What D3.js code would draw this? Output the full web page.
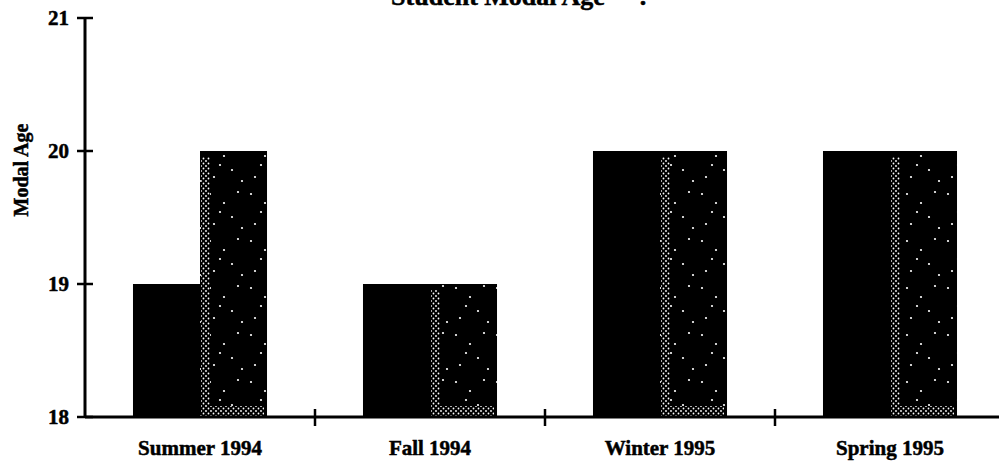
<!DOCTYPE html>
<html>
<head>
<meta charset="utf-8">
<script src="https://cdn.jsdelivr.net/npm/d3@7"></script>
<style>
  html, body { margin: 0; padding: 0; background: #fff; }
  svg { display: block; }
  text { font-family: "Liberation Serif", "Times New Roman", serif; font-weight: bold; fill: #000;
         stroke: #000; stroke-width: 0.5px; }
</style>
</head>
<body>
<svg id="chart" width="999" height="464"></svg>
<script>
// ---- data ----
const title = "Student Modal Age";
const yLabel = "Modal Age";
const categories = ["Summer 1994", "Fall 1994", "Winter 1995", "Spring 1995"];
const seriesNames = ["Series A", "Series B"];
const seriesA = [19, 19, 20, 20];
const seriesB = [20, 19, 20, 20];
const yTicks = [18, 19, 20, 21];

(function () {
// ---- layout ----
const svg = d3.select("#chart");
const mLeft = 85, mRight = 1005, mTop = 18, mBottom = 417;

const x = d3.scaleBand().domain(categories).range([mLeft, mRight]).paddingInner(0).paddingOuter(0);
const x1 = d3.scaleBand().domain(seriesNames).range([0, x.bandwidth()]).paddingInner(0).paddingOuter(0.716);
const y = d3.scaleLinear().domain([18, 21]).range([mBottom, mTop]);

// patterns
const defs = svg.append("defs");
const st = defs.append("pattern").attr("id", "stipple").attr("patternUnits", "userSpaceOnUse")
  .attr("width", 41).attr("height", 47);
st.append("rect").attr("width", 41).attr("height", 47).attr("fill", "#000");
[[5,6],[19,15],[33,4],[27,29],[9,36],[37,40],[15,24]].forEach(p =>
  st.append("circle").attr("cx", p[0]).attr("cy", p[1]).attr("r", 1.1).attr("fill", "#fff"));
const dt = defs.append("pattern").attr("id", "dither").attr("patternUnits", "userSpaceOnUse")
  .attr("width", 5).attr("height", 5);
dt.append("rect").attr("width", 5).attr("height", 5).attr("fill", "#000");
dt.append("circle").attr("cx", 1).attr("cy", 1).attr("r", 0.9).attr("fill", "#fff");
dt.append("circle").attr("cx", 3.5).attr("cy", 3.5).attr("r", 0.9).attr("fill", "#fff");

// title (cropped at top in reference)
svg.append("text").attr("x", 498).attr("y", 5).attr("text-anchor", "middle")
  .attr("font-size", 26).text(title);
svg.append("text").attr("x", 643).attr("y", 5).attr("text-anchor", "middle")
  .attr("font-size", 26).text(".");

// bars
const g = svg.append("g");
categories.forEach((c, i) => {
  const bx = x(c);
  // series A: solid black
  g.append("rect")
    .attr("x", bx + x1(seriesNames[0])).attr("y", y(seriesA[i]))
    .attr("width", x1.bandwidth()).attr("height", y(18) - y(seriesA[i]))
    .attr("fill", "#000");
  // series B: stippled
  const sx = bx + x1(seriesNames[1]);
  const sy = y(seriesB[i]);
  const sh = y(18) - sy;
  const sw = x1.bandwidth();
  g.append("rect").attr("x", sx).attr("y", sy).attr("width", sw).attr("height", sh)
    .attr("fill", "url(#stipple)");
  g.append("rect").attr("x", sx + 1).attr("y", sy + 6).attr("width", 9).attr("height", sh - 6)
    .attr("fill", "url(#dither)");
  g.append("rect").attr("x", sx + 1).attr("y", y(18) - 11).attr("width", sw - 4).attr("height", 10)
    .attr("fill", "url(#dither)");
});

// y axis
svg.append("line").attr("x1", mLeft).attr("x2", mLeft).attr("y1", y(21)).attr("y2", y(18))
  .attr("stroke", "#000").attr("stroke-width", 3);
yTicks.forEach(t => {
  svg.append("line").attr("x1", mLeft - 8).attr("x2", mLeft + 8).attr("y1", y(t)).attr("y2", y(t))
    .attr("stroke", "#000").attr("stroke-width", 2.5);
  svg.append("text").attr("x", 69).attr("y", y(t)).attr("dy", "0.34em")
    .attr("text-anchor", "end").attr("font-size", 21).text(t);
});

// x axis
svg.append("line").attr("x1", mLeft).attr("x2", 999).attr("y1", y(18)).attr("y2", y(18))
  .attr("stroke", "#000").attr("stroke-width", 3);
categories.slice(1).forEach(c => {
  svg.append("line").attr("x1", x(c)).attr("x2", x(c)).attr("y1", y(18) - 8).attr("y2", y(18) + 9)
    .attr("stroke", "#000").attr("stroke-width", 2.5);
});
categories.forEach(c => {
  svg.append("text").attr("x", x(c) + x.bandwidth() / 2).attr("y", 455)
    .attr("text-anchor", "middle").attr("font-size", 21).text(c);
});

// y label
svg.append("text").attr("transform", "translate(28,170) rotate(-90)")
  .attr("text-anchor", "middle").attr("font-size", 20).text(yLabel);
})();
</script>
</body>
</html>
